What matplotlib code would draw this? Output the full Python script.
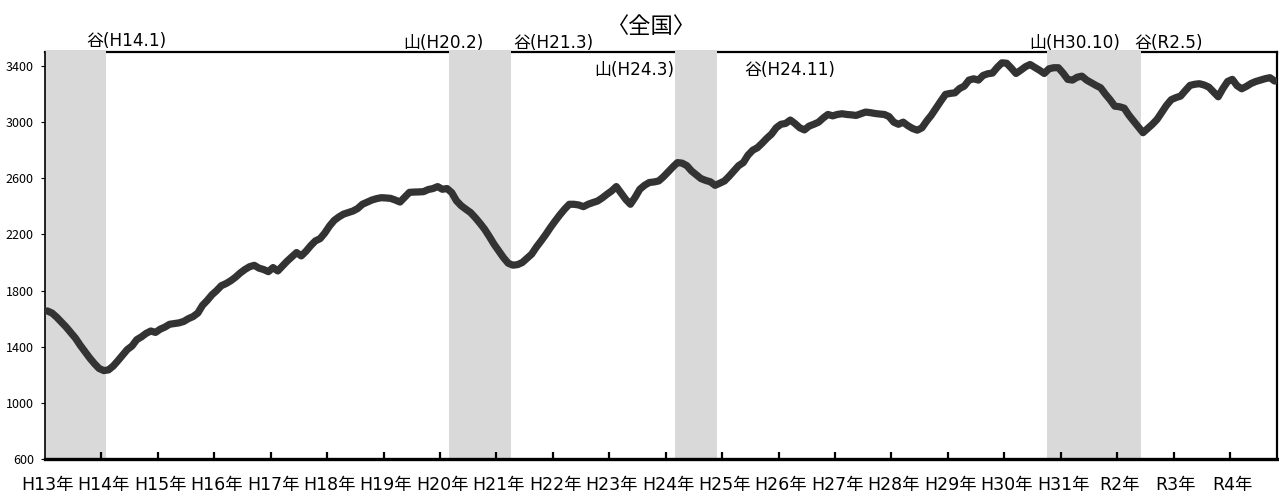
import numpy as np
import matplotlib
matplotlib.use("Agg")
import matplotlib.pyplot as plt

plt.rcParams["font.family"] = ["Noto Sans CJK JP", "DejaVu Sans"]
wide = ["DejaVu Sans", "Noto Sans CJK JP"]

# monthly values, H13.1 - R4.10
years = ["H13年", "H14年", "H15年", "H16年", "H17年", "H18年", "H19年", "H20年",
         "H21年", "H22年", "H23年", "H24年", "H25年", "H26年", "H27年", "H28年",
         "H29年", "H30年", "H31年", "R2年", "R3年", "R4年"]
h13 = [1655, 1640, 1610, 1575, 1540, 1500, 1460, 1410, 1365, 1320, 1280, 1245]
h14 = [1230, 1235, 1262, 1300, 1340, 1380, 1405, 1450, 1470, 1495, 1512, 1502]
h15 = [1525, 1540, 1560, 1565, 1570, 1580, 1600, 1615, 1640, 1695, 1730, 1770]
h16 = [1800, 1835, 1850, 1870, 1895, 1925, 1950, 1970, 1980, 1960, 1950, 1935]
h17 = [1964, 1940, 1975, 2010, 2040, 2071, 2047, 2080, 2120, 2154, 2170, 2210]
h18 = [2260, 2300, 2325, 2345, 2356, 2367, 2385, 2415, 2430, 2445, 2455, 2462]
h19 = [2460, 2457, 2445, 2431, 2465, 2500, 2502, 2503, 2505, 2520, 2527, 2541]
h20 = [2522, 2527, 2498, 2440, 2405, 2380, 2356, 2320, 2280, 2237, 2185, 2130]
h21 = [2082, 2035, 1995, 1981, 1985, 2000, 2030, 2060, 2110, 2154, 2200, 2250]
h22 = [2296, 2340, 2380, 2415, 2415, 2410, 2398, 2415, 2427, 2438, 2460, 2486]
h23 = [2510, 2541, 2495, 2450, 2415, 2465, 2522, 2550, 2570, 2574, 2581, 2610]
h24 = [2645, 2680, 2712, 2708, 2690, 2652, 2625, 2598, 2585, 2575, 2550, 2565]
h25 = [2581, 2615, 2652, 2690, 2712, 2765, 2800, 2818, 2850, 2885, 2915, 2960]
h26 = [2985, 2991, 3015, 2990, 2960, 2945, 2972, 2985, 3000, 3030, 3055, 3045]
h27 = [3055, 3060, 3055, 3052, 3048, 3060, 3072, 3068, 3062, 3058, 3055, 3040]
h28 = [3000, 2985, 3000, 2975, 2955, 2943, 2960, 3008, 3050, 3100, 3150, 3198]
h29 = [3205, 3209, 3240, 3257, 3300, 3309, 3300, 3333, 3345, 3350, 3390, 3423]
h30 = [3420, 3385, 3347, 3370, 3395, 3411, 3390, 3370, 3347, 3380, 3388, 3388]
h31 = [3350, 3305, 3300, 3320, 3328, 3300, 3281, 3262, 3245, 3200, 3160, 3114]
r2 = [3110, 3100, 3050, 3008, 2965, 2925, 2955, 2985, 3020, 3070, 3120, 3160]
r3 = [3175, 3186, 3225, 3262, 3270, 3274, 3265, 3250, 3215, 3181, 3240, 3290]
r4 = [3305, 3260, 3238, 3255, 3276, 3290, 3300, 3310, 3317, 3293]

values = (h13 + h14 + h15 + h16 + h17 + h18 + h19 + h20 + h21 + h22 + h23
          + h24 + h25 + h26 + h27 + h28 + h29 + h30 + h31 + r2 + r3 + r4)

# recession periods (month index from H13.1)
shade_start = [0, 86, 134, 213]
shade_end = [12, 98, 142, 232]

labels = ["谷(H14.1)", "山(H20.2)", "谷(H21.3)", "山(H24.3)", "谷(H24.11)",
          "山(H30.10)", "谷(R2.5)"]
label_x = [16.8, 84.2, 107.6, 124.9, 157.8, 218.4, 238.4]
label_y = [1.027, 1.022, 1.022, 0.955, 0.955, 1.022, 1.022]

x = np.arange(len(values))

fig = plt.figure(figsize=(12.79, 4.98), dpi=100)
ax = fig.add_axes([45 / 1279, 1 - 459 / 498, 1232 / 1279, 407 / 498])

for s, e in zip(shade_start, shade_end):
    ax.axvspan(s - 0.5, e + 0.5, ymin=0, ymax=1.006, color="#d9d9d9",
               lw=0, zorder=1, clip_on=False)

ax.plot(x, values, color="#333333", lw=5.2, solid_joinstyle="round",
        solid_capstyle="round", zorder=3)

ax.set_xlim(-0.5, len(values) - 0.5)
ax.set_ylim(600, 3500)
ax.set_yticks(np.arange(600, 3401, 400))
ax.tick_params(axis="y", labelsize=9, length=3, width=0.8, direction="out", pad=5)

ax.set_xticks(np.arange(11.5, len(values) - 1, 12))
ax.set_xticklabels([])
ax.tick_params(axis="x", which="major", direction="in", length=5, width=1.6)
ax.set_xticks(np.arange(0, len(values), 12), minor=True)
ax.set_xticklabels(years, minor=True, fontsize=12.5, family=wide)
ax.tick_params(axis="x", which="minor", length=0, pad=12)

ax.spines["top"].set_zorder(0.5)
ax.spines["top"].set_linewidth(1.6)
ax.spines["right"].set_linewidth(1.6)
ax.spines["left"].set_linewidth(1.2)
ax.spines["bottom"].set_linewidth(2.4)
for sp in ax.spines.values():
    sp.set_color("black")

for t, lx, ly in zip(labels, label_x, label_y):
    ax.text(lx, ly, t, transform=ax.get_xaxis_transform(), ha="center",
            va="center", fontsize=12.2, family=wide)

ax.text(0.492, 1.062, "〈全国〉", transform=ax.transAxes, ha="center",
        va="center", fontsize=16)

fig.savefig("out.png", dpi=100, facecolor="white")
